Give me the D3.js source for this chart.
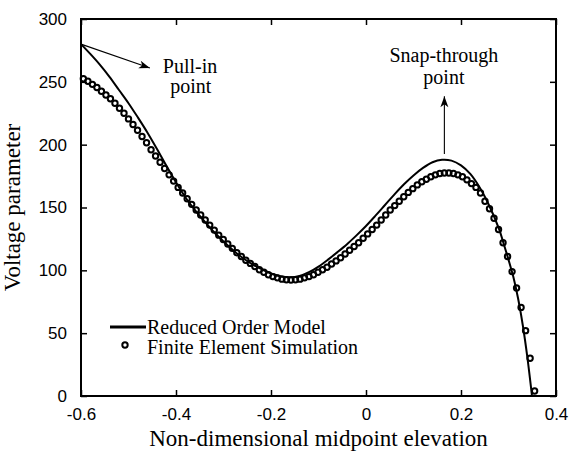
<!DOCTYPE html>
<html>
<head>
<meta charset="utf-8">
<script src="https://cdn.jsdelivr.net/npm/d3@7"></script>
<style>
  html, body { margin: 0; padding: 0; background: #fff; }
  svg { display: block; }
</style>
</head>
<body>
<svg id="chart" width="569" height="455"></svg>
<script>
// ---- data ----
const xTickValues = [-0.6, -0.4, -0.2, 0, 0.2, 0.4];
const xTickLabels = ["-0.6", "-0.4", "-0.2", "0", "0.2", "0.4"];
const yTickValues = [0, 50, 100, 150, 200, 250, 300];
const yTickLabels = ["0", "50", "100", "150", "200", "250", "300"];

// Reduced Order Model (solid line)
const romX = [-0.60, -0.58, -0.56, -0.54, -0.52, -0.50, -0.48, -0.46, -0.44, -0.42,
              -0.40, -0.38, -0.36, -0.34, -0.32, -0.30, -0.28, -0.26, -0.24, -0.22,
              -0.20, -0.18, -0.16, -0.14, -0.12, -0.10, -0.08, -0.06, -0.04, -0.02,
               0.00,  0.02,  0.04,  0.06,  0.08,  0.10,  0.12,  0.14,  0.16,  0.18,
               0.20,  0.22,  0.24,  0.26,  0.28,  0.29,  0.30,  0.31,  0.32,  0.33,
               0.34,  0.3495];
const romY = [280, 272, 263.5, 254, 243.5, 233, 221.5, 209.5, 196.5, 183,
              170, 158, 148, 139, 130.5, 123, 116, 110, 105, 101,
              97.5, 95.3, 94.5, 95.5, 98.5, 103, 108.5, 114.5, 120.8, 127.8,
              135.3, 143.5, 152, 160.5, 168.5, 175.5, 181.5, 186, 188, 187.3,
              183.5, 176.5, 165.5, 151, 133, 121, 108.5, 95, 78, 56.5,
              30, 0];

// Finite Element Simulation (circles)
const feX = [-0.595, -0.5855, -0.576, -0.5665, -0.557, -0.5475, -0.538, -0.5285, -0.519, -0.5095,
             -0.500, -0.4905, -0.481, -0.4715, -0.462, -0.4525, -0.443, -0.4335, -0.424, -0.4145,
             -0.405, -0.3955, -0.386, -0.3765, -0.367, -0.3575, -0.348, -0.3385, -0.329, -0.3195,
             -0.310, -0.3005, -0.291, -0.2815, -0.272, -0.2625, -0.253, -0.2435, -0.234, -0.2245,
             -0.215, -0.2055, -0.196, -0.1865, -0.177, -0.1675, -0.158, -0.1485, -0.139, -0.1295,
             -0.120, -0.1105, -0.101, -0.0915, -0.082, -0.0725, -0.063, -0.0535, -0.044, -0.0345,
             -0.025, -0.0155, -0.006, 0.0035, 0.013, 0.0225, 0.032, 0.0415, 0.051, 0.0605,
              0.070, 0.0795, 0.089, 0.0985, 0.108, 0.1175, 0.127, 0.1365, 0.146, 0.1555,
              0.165, 0.1745, 0.184, 0.1935, 0.203, 0.2125, 0.222, 0.2315, 0.241, 0.2505,
              0.260, 0.2695, 0.279, 0.2885, 0.298, 0.3075, 0.317, 0.3265, 0.336, 0.3455,
              0.355];
const feY = [252.5, 250.5, 248, 245.5, 242.5, 239.5, 236.5, 233, 229, 225,
             220.5, 216, 211.5, 206.5, 201.5, 196, 191, 186, 181, 176,
             171, 166, 161.5, 157, 152.5, 148, 144, 140, 136, 132,
             128, 124.5, 121, 117.5, 114, 111, 108, 105.5, 103, 100.5,
             98.5, 96.5, 95, 94, 93, 92.5, 92.3, 92.5, 93, 94,
             95, 96.5, 98.5, 100.5, 102.5, 105, 107.5, 110, 113, 116,
             119, 122, 125.5, 129, 132.5, 136, 140, 144, 148, 151.5,
             155, 158.5, 162, 165, 168, 170.5, 172.5, 174.5, 176, 177,
             177.5, 177.5, 177, 176, 174.5, 172, 169, 166, 161.5, 155,
             149, 141.5, 132.5, 122, 111, 99, 86, 70.5, 52, 30,
             4];

const seriesNames = ["Reduced Order Model", "Finite Element Simulation"];
const xTitle = "Non-dimensional midpoint elevation";
const yTitle = "Voltage parameter";

// ---- layout ----
const svg = d3.select("#chart");
const mLeft = 81, mRight = 556, mTop = 19, mBottom = 396;
const x = d3.scaleLinear().domain([-0.6, 0.4]).range([mLeft, mRight]);
const y = d3.scaleLinear().domain([0, 300]).range([mBottom, mTop]);
const serif = "'Liberation Serif', 'Times New Roman', serif";
const sans = "'Liberation Sans', Arial, sans-serif";

// clip
svg.append("defs").append("clipPath").attr("id", "clip")
  .append("rect").attr("x", mLeft).attr("y", mTop).attr("width", mRight - mLeft).attr("height", mBottom - mTop);

// axes with inward ticks
const tickLen = 6;
const axB = d3.axisBottom(x).tickValues(xTickValues).tickFormat((d, i) => xTickLabels[i]).tickSizeInner(-tickLen).tickSizeOuter(0).tickPadding(12);
const axT = d3.axisTop(x).tickValues(xTickValues).tickFormat("").tickSizeInner(-tickLen).tickSizeOuter(0);
const axL = d3.axisLeft(y).tickValues(yTickValues).tickFormat((d, i) => yTickLabels[i]).tickSizeInner(-tickLen).tickSizeOuter(0).tickPadding(14);
const axR = d3.axisRight(y).tickValues(yTickValues).tickFormat("").tickSizeInner(-tickLen).tickSizeOuter(0);

function styleAxis(g) {
  g.select(".domain").remove();
  g.selectAll(".tick line").attr("stroke", "#000").attr("stroke-width", 1.5);
  g.selectAll(".tick text").attr("fill", "#000").style("font-family", sans).style("font-size", "17px");
}
svg.append("g").attr("transform", `translate(0,${mBottom})`).call(axB).call(styleAxis);
svg.append("g").attr("transform", `translate(0,${mTop})`).call(axT).call(styleAxis);
svg.append("g").attr("transform", `translate(${mLeft},0)`).call(axL).call(styleAxis);
svg.append("g").attr("transform", `translate(${mRight},0)`).call(axR).call(styleAxis);

// frame
svg.append("rect").attr("x", mLeft).attr("y", mTop).attr("width", mRight - mLeft).attr("height", mBottom - mTop)
  .attr("fill", "none").attr("stroke", "#000").attr("stroke-width", 2);

// ROM line
const romData = romX.map((v, i) => [v, romY[i]]);
svg.append("path").datum(romData)
  .attr("clip-path", "url(#clip)")
  .attr("fill", "none").attr("stroke", "#000").attr("stroke-width", 2)
  .attr("d", d3.line().x(d => x(d[0])).y(d => y(d[1])).curve(d3.curveCatmullRom.alpha(0.5)));

// FE circles
const feData = feX.map((v, i) => [v, feY[i]]);
svg.append("g").selectAll("circle").data(feData).join("circle")
  .attr("cx", d => x(d[0])).attr("cy", d => y(d[1])).attr("r", 2.7)
  .attr("fill", "none").attr("stroke", "#000").attr("stroke-width", 2);

// arrows
function arrow(x1, y1, x2, y2) {
  svg.append("line").attr("x1", x1).attr("y1", y1).attr("x2", x2).attr("y2", y2)
    .attr("stroke", "#000").attr("stroke-width", 1.1);
  const ang = Math.atan2(y2 - y1, x2 - x1);
  const L = 11, W = 4, N = 8;
  const p = (d, w) => [x2 - d * Math.cos(ang) - w * Math.sin(ang), y2 - d * Math.sin(ang) + w * Math.cos(ang)];
  const pts = [[x2, y2], p(L, W), p(N, 0), p(L, -W)];
  svg.append("path").attr("d", "M" + pts.map(q => q.join(",")).join("L") + "Z").attr("fill", "#000");
}
arrow(x(-0.6), y(280), x(-0.455), y(261));
arrow(x(0.165), y(192.5), x(0.165), y(238.6));

// annotation text
function label(txt, xv, yv) {
  svg.append("text").attr("x", x(xv)).attr("y", y(yv)).attr("text-anchor", "middle")
    .style("font-family", serif).style("font-size", "20px").attr("fill", "#000").text(txt);
}
label("Pull-in", -0.3705, 257);
label("point", -0.369, 241);
label("Snap-through", 0.164, 265.7);
label("point", 0.164, 248.2);

// legend
const lg = svg.append("g");
lg.append("line").attr("x1", 110).attr("x2", 146).attr("y1", 327).attr("y2", 327)
  .attr("stroke", "#000").attr("stroke-width", 3);
lg.append("text").attr("x", 147).attr("y", 334).style("font-family", serif).style("font-size", "20px").text(seriesNames[0]);
lg.append("circle").attr("cx", 125).attr("cy", 345).attr("r", 2.7).attr("fill", "none").attr("stroke", "#000").attr("stroke-width", 2);
lg.append("text").attr("x", 147).attr("y", 354).style("font-family", serif).style("font-size", "20px").text(seriesNames[1]);

// axis titles
svg.append("text").attr("x", (mLeft + mRight) / 2).attr("y", 446).attr("text-anchor", "middle")
  .style("font-family", serif).style("font-size", "23px").text(xTitle);
svg.append("text").attr("transform", `translate(20,${(mTop + mBottom) / 2}) rotate(-90)`).attr("text-anchor", "middle")
  .style("font-family", serif).style("font-size", "23px").text(yTitle);
</script>
</body>
</html>
